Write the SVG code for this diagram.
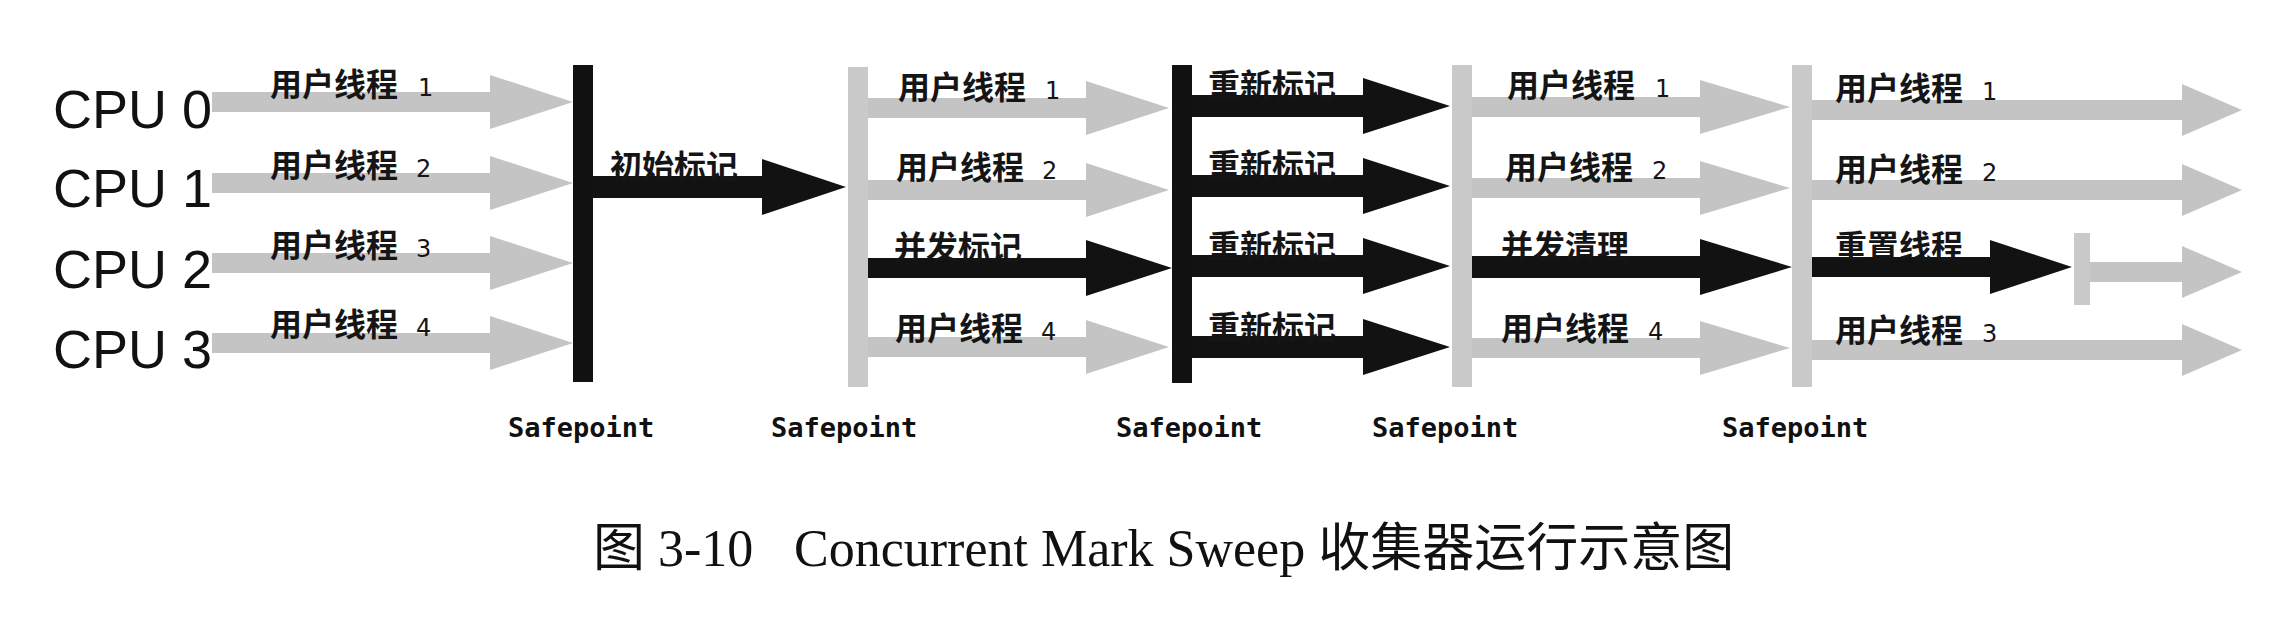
<svg xmlns="http://www.w3.org/2000/svg" width="2286" height="618" viewBox="0 0 2286 618">
<style>
.bg{fill:#ffffff}
.ga{fill:#c4c4c4}
.ba{fill:#121212}
.gb{fill:#c9c9c9}
.bb{fill:#111111}
.cpu{font-family:"Liberation Sans",Arial,sans-serif;font-size:54px;fill:#111}
.lb{font-family:"Noto Sans CJK SC",sans-serif;font-size:32px;font-weight:bold;fill:#151515}
.num{font-family:"DejaVu Sans",sans-serif;font-size:24px;font-weight:normal}
.sp{font-family:"DejaVu Sans Mono",monospace;font-size:27px;font-weight:bold;fill:#111}
.cap{font-family:"Liberation Serif","Noto Sans CJK SC",serif;font-size:52px;fill:#111}
</style>
<rect class="bg" x="0" y="0" width="2286" height="618"/>

<g id="cpu-labels">
<text class="cpu" x="53" y="128">CPU 0</text>
<text class="cpu" x="53" y="207">CPU 1</text>
<text class="cpu" x="53" y="288">CPU 2</text>
<text class="cpu" x="53" y="368">CPU 3</text>
</g>

<g id="connectors">
<polygon class="ga" points="212,92 490,92 490,75 573,102 490,129 490,112 212,112"/>
<polygon class="ga" points="212,173 490,173 490,156 573,183 490,210 490,193 212,193"/>
<polygon class="ga" points="212,253 490,253 490,236 573,263 490,290 490,273 212,273"/>
<polygon class="ga" points="212,333 490,333 490,316 573,343 490,370 490,353 212,353"/>
<polygon class="ba" points="593,176 762,176 762,159 846,187 762,215 762,198 593,198"/>
<polygon class="ga" points="868,98 1086,98 1086,81 1169,108 1086,135 1086,118 868,118"/>
<polygon class="ga" points="868,180 1086,180 1086,163 1169,190 1086,217 1086,200 868,200"/>
<polygon class="ba" points="868,258 1086,258 1086,240 1172,268 1086,296 1086,278 868,278"/>
<polygon class="ga" points="868,337 1086,337 1086,320 1169,347 1086,374 1086,357 868,357"/>
<polygon class="ba" points="1192,95 1363,95 1363,78 1450,106 1363,134 1363,117 1192,117"/>
<polygon class="ba" points="1192,175 1363,175 1363,158 1450,186 1363,214 1363,197 1192,197"/>
<polygon class="ba" points="1192,255 1363,255 1363,238 1450,266 1363,294 1363,277 1192,277"/>
<polygon class="ba" points="1192,336 1363,336 1363,319 1450,347 1363,375 1363,358 1192,358"/>
<polygon class="ga" points="1472,97 1700,97 1700,80 1790,107 1700,134 1700,117 1472,117"/>
<polygon class="ga" points="1472,178 1700,178 1700,161 1790,188 1700,215 1700,198 1472,198"/>
<polygon class="ba" points="1472,256 1700,256 1700,239 1792,267 1700,295 1700,278 1472,278"/>
<polygon class="ga" points="1472,338 1700,338 1700,321 1790,348 1700,375 1700,358 1472,358"/>
<polygon class="ga" points="1812,100 2182,100 2182,84 2242,110 2182,136 2182,120 1812,120"/>
<polygon class="ga" points="1812,180 2182,180 2182,164 2242,190 2182,216 2182,200 1812,200"/>
<polygon class="ba" points="1812,257 1990,257 1990,240 2072,267 1990,294 1990,277 1812,277"/>
<polygon class="ga" points="2090,262 2182,262 2182,246 2242,272 2182,298 2182,282 2090,282"/>
<polygon class="ga" points="1812,340 2182,340 2182,324 2242,350 2182,376 2182,360 1812,360"/>
</g>

<g id="safepoint-1">
<rect class="bb" x="573" y="65" width="20" height="317"/>
<text class="sp" x="508" y="437">Safepoint</text>
</g>
<g id="safepoint-2">
<rect class="gb" x="848" y="67" width="20" height="320"/>
<text class="sp" x="771" y="437">Safepoint</text>
</g>
<g id="safepoint-3">
<rect class="bb" x="1172" y="65" width="20" height="318"/>
<text class="sp" x="1116" y="437">Safepoint</text>
</g>
<g id="safepoint-4">
<rect class="gb" x="1452" y="65" width="20" height="322"/>
<text class="sp" x="1372" y="437">Safepoint</text>
</g>
<g id="safepoint-5">
<rect class="gb" x="1792" y="65" width="20" height="322"/>
<text class="sp" x="1722" y="437">Safepoint</text>
</g>
<g id="reset-stop">
<rect class="gb" x="2074" y="233" width="16" height="72"/>
</g>

<g id="labels-phase1">
<text class="lb" x="270" y="96">用户线程<tspan class="num" x="418">1</tspan></text>
<text class="lb" x="270" y="177">用户线程<tspan class="num" x="416">2</tspan></text>
<text class="lb" x="270" y="257">用户线程<tspan class="num" x="416">3</tspan></text>
<text class="lb" x="270" y="336">用户线程<tspan class="num" x="416">4</tspan></text>
</g>
<g id="labels-phase2">
<text class="lb" x="610" y="178">初始标记</text>
</g>
<g id="labels-phase3">
<text class="lb" x="898" y="99">用户线程<tspan class="num" x="1045">1</tspan></text>
<text class="lb" x="896" y="179">用户线程<tspan class="num" x="1042">2</tspan></text>
<text class="lb" x="894" y="259">并发标记</text>
<text class="lb" x="895" y="340">用户线程<tspan class="num" x="1041">4</tspan></text>
</g>
<g id="labels-phase4">
<text class="lb" x="1208" y="97">重新标记</text>
<text class="lb" x="1208" y="177">重新标记</text>
<text class="lb" x="1208" y="258">重新标记</text>
<text class="lb" x="1208" y="339">重新标记</text>
</g>
<g id="labels-phase5">
<text class="lb" x="1507" y="97">用户线程<tspan class="num" x="1655">1</tspan></text>
<text class="lb" x="1505" y="179">用户线程<tspan class="num" x="1652">2</tspan></text>
<text class="lb" x="1501" y="258">并发清理</text>
<text class="lb" x="1501" y="340">用户线程<tspan class="num" x="1648">4</tspan></text>
</g>
<g id="labels-phase6">
<text class="lb" x="1835" y="100">用户线程<tspan class="num" x="1982">1</tspan></text>
<text class="lb" x="1835" y="181">用户线程<tspan class="num" x="1982">2</tspan></text>
<text class="lb" x="1835" y="258">重置线程</text>
<text class="lb" x="1835" y="342">用户线程<tspan class="num" x="1982">3</tspan></text>
</g>

<g id="caption">
<text class="cap" x="593" y="566">图 3-10</text>
<text class="cap" x="794" y="566">Concurrent Mark Sweep 收集器运行示意图</text>
</g>
</svg>
